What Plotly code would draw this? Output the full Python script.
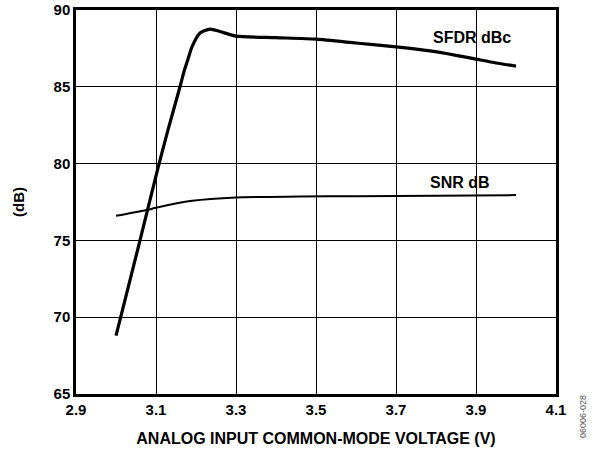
import plotly.graph_objects as go

# SFDR (dBc) vs common-mode voltage
sfdr_v = [3.00, 3.03, 3.06, 3.10, 3.13, 3.16, 3.17, 3.18, 3.19, 3.21, 3.235,
          3.26, 3.30, 3.40, 3.50, 3.60, 3.70, 3.78, 3.85, 3.90, 3.95, 4.00]
sfdr_db = [68.8, 71.9, 75.0, 79.2, 82.2, 85.0, 86.0, 86.8, 87.6, 88.5, 88.76,
           88.6, 88.3, 88.2, 88.1, 87.85, 87.6, 87.35, 87.05, 86.8, 86.55, 86.35]

# SNR (dB)
snr_v = [3.00, 3.08, 3.10, 3.19, 3.30, 3.46, 3.60, 3.80, 4.00]
snr_db = [76.6, 77.0, 77.13, 77.58, 77.8, 77.85, 77.88, 77.9, 77.95]

x_ticks = [2.9, 3.1, 3.3, 3.5, 3.7, 3.9, 4.1]
y_ticks = [65, 70, 75, 80, 85, 90]

font = "Liberation Sans, Arial, sans-serif"
tick_font = dict(family=font, size=15, color="black", weight="bold")
label_font = dict(family=font, size=16, color="black", weight="bold")

fig = go.Figure()
fig.add_trace(go.Scatter(
    x=snr_v, y=snr_db, mode="lines",
    line=dict(color="black", width=2, shape="spline", smoothing=0.6),
))
fig.add_trace(go.Scatter(
    x=sfdr_v, y=sfdr_db, mode="lines",
    line=dict(color="black", width=3.2, shape="spline", smoothing=0.6),
))

fig.add_annotation(x=3.89, y=88.2, text="SFDR dBc", showarrow=False, font=label_font)
fig.add_annotation(x=3.86, y=78.8, text="SNR dB", showarrow=False, font=label_font)
fig.add_annotation(x=1.0, xref="paper", xanchor="center", xshift=27,
                   y=-0.06, yref="paper", yanchor="middle", text="06006-028",
                   textangle=-90, showarrow=False,
                   font=dict(family=font, size=9, color="#555"))

fig.update_layout(
    width=597, height=452,
    margin=dict(l=76, r=41, t=10, b=58),
    plot_bgcolor="white", paper_bgcolor="white",
    showlegend=False,
    font=dict(family=font, size=15, color="black"),
)
fig.update_xaxes(
    range=[2.9, 4.1], tickvals=x_ticks, tickformat=".1f", tickfont=tick_font,
    showgrid=True, gridcolor="black", gridwidth=1.3,
    showline=True, linecolor="black", linewidth=2.5, mirror=True,
    ticks="", zeroline=False, automargin=False,
    title=dict(text="ANALOG INPUT COMMON-MODE VOLTAGE (V)", font=label_font, standoff=17),
)
fig.update_yaxes(
    range=[65, 90], tickvals=y_ticks, tickfont=tick_font,
    showgrid=True, gridcolor="black", gridwidth=1.3,
    showline=True, linecolor="black", linewidth=2.5, mirror=True,
    ticks="", zeroline=False, automargin=False,
    title=dict(text="(dB)", font=tick_font, standoff=26),
)

# drop the page's default body margin so the figure fills the window exactly
fig.write_html("out.html", config={"displayModeBar": False},
               post_script="document.body.style.margin='0';")
